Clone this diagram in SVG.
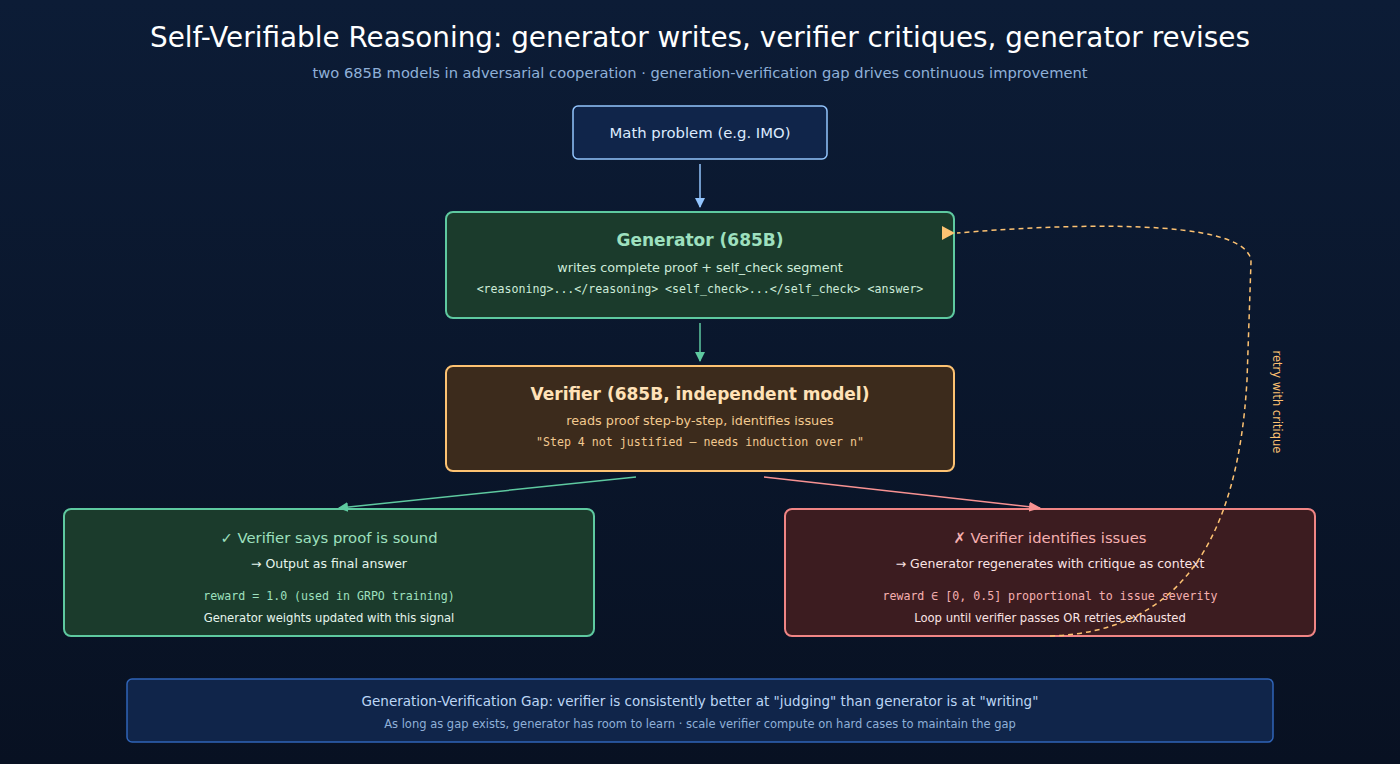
<svg xmlns="http://www.w3.org/2000/svg" width="1400" height="764" viewBox="0 0 1400 764">
<defs>
<linearGradient id="bg" x1="0" y1="0" x2="0" y2="1"><stop offset="0" stop-color="#0c1c36"/><stop offset="1" stop-color="#081122"/></linearGradient>
<marker id="mb" markerWidth="10" markerHeight="10" refX="9" refY="5" orient="auto" markerUnits="userSpaceOnUse"><path d="M0,0L10,5L0,10z" fill="#93c5fd"/></marker>
<marker id="mg" markerWidth="10" markerHeight="10" refX="9" refY="5" orient="auto" markerUnits="userSpaceOnUse"><path d="M0,0L10,5L0,10z" fill="#5ec9a0"/></marker>
<marker id="mr" markerWidth="12" markerHeight="10" refX="11" refY="5" orient="auto" markerUnits="userSpaceOnUse"><path d="M0,0L12,5L0,10z" fill="#f79292"/></marker>
</defs>
<style>
text{font-family:"DejaVu Sans",sans-serif;text-anchor:middle}
.m{font-family:"DejaVu Sans Mono",monospace}
</style>
<rect width="1400" height="764" fill="url(#bg)"/>
<text x="700" y="47" font-size="28" fill="#ffffff" textLength="1100" lengthAdjust="spacingAndGlyphs">Self-Verifiable Reasoning: generator writes, verifier critiques, generator revises</text>
<text x="700" y="78" font-size="14" fill="#8fb0d8" textLength="775" lengthAdjust="spacingAndGlyphs">two 685B models in adversarial cooperation · generation-verification gap drives continuous improvement</text>

<g id="problem"><rect x="573" y="106" width="254" height="53" rx="5" fill="#10254a" stroke="#93c5fd" stroke-width="1.5"/>
<text x="700" y="138" font-size="14" fill="#dbeafe" textLength="181" lengthAdjust="spacingAndGlyphs">Math problem (e.g. IMO)</text></g>

<g id="generator"><rect x="446" y="212" width="508" height="106" rx="7" fill="#1b3b2c" stroke="#5ec9a0" stroke-width="2"/>
<text x="700" y="246" font-size="17" font-weight="bold" fill="#9ee0bf">Generator (685B)</text>
<text x="700" y="272" font-size="12.8" fill="#cdebd9">writes complete proof + self_check segment</text>
<text x="700" y="293" font-size="11.6" class="m" fill="#cdebd9">&lt;reasoning&gt;...&lt;/reasoning&gt; &lt;self_check&gt;...&lt;/self_check&gt; &lt;answer&gt;</text></g>

<g id="verifier"><rect x="446" y="366" width="508" height="105" rx="7" fill="#3c2b1c" stroke="#fdc272" stroke-width="2"/>
<text x="700" y="400" font-size="17" font-weight="bold" fill="#ffe2b8">Verifier (685B, independent model)</text>
<text x="700" y="425" font-size="12.8" fill="#f2c98f">reads proof step-by-step, identifies issues</text>
<text x="700" y="446" font-size="11.6" class="m" fill="#f2c98f">"Step 4 not justified — needs induction over n"</text></g>

<g id="sound"><rect x="64" y="509" width="530" height="127" rx="7" fill="#1b3b2c" stroke="#5ec9a0" stroke-width="2"/>
<text x="329" y="543" font-size="14.8" fill="#9ee0bf">✓ Verifier says proof is sound</text>
<text x="329" y="568" font-size="12.5" fill="#e6f5ec">→ Output as final answer</text>
<text x="329" y="600" font-size="11.6" class="m" fill="#9ee0bf">reward = 1.0 (used in GRPO training)</text>
<text x="329" y="622" font-size="11.6" fill="#e6f5ec">Generator weights updated with this signal</text></g>

<g id="issues"><rect x="785" y="509" width="530" height="127" rx="7" fill="#3c1c20" stroke="#f08585" stroke-width="2"/>
<text x="1050" y="543" font-size="14.8" fill="#f6b0b0">✗ Verifier identifies issues</text>
<text x="1050" y="568" font-size="12.5" fill="#fbe4e4">→ Generator regenerates with critique as context</text>
<text x="1050" y="600" font-size="11.6" class="m" fill="#f6b0b0">reward ∈ [0, 0.5] proportional to issue severity</text>
<text x="1050" y="622" font-size="11.6" fill="#fbe4e4">Loop until verifier passes OR retries exhausted</text></g>

<g id="gap"><rect x="127" y="679" width="1146" height="63" rx="5" fill="#10254a" stroke="#2f64b8" stroke-width="1.5"/>
<text x="700" y="706" font-size="13.5" fill="#bcd6f5">Generation-Verification Gap: verifier is consistently better at "judging" than generator is at "writing"</text>
<text x="700" y="728" font-size="11.5" fill="#8fb0d8">As long as gap exists, generator has room to learn · scale verifier compute on hard cases to maintain the gap</text></g>

<g id="connectors" fill="none">
<path d="M700,164V207" stroke="#93c5fd" stroke-width="1.5" marker-end="url(#mb)"/>
<path d="M700,323V361" stroke="#5ec9a0" stroke-width="1.5" marker-end="url(#mg)"/>
<path d="M636,477L339,508" stroke="#5ec9a0" stroke-width="1.5" marker-end="url(#mg)"/>
<path d="M764,477L1040,508" stroke="#f79292" stroke-width="1.5" marker-end="url(#mr)"/>
<path d="M1050,636C1180,632 1238,540 1247,380L1251,262C1250,215 1050,225 957,233" stroke="#fdc272" stroke-width="1.5" stroke-dasharray="5,4"/>
<path d="M942,226L955,233L942,240z" fill="#fdc272"/>
<text x="1276" y="402" font-size="11.5" fill="#fdc272" transform="rotate(90 1276 402)" dominant-baseline="middle">retry with critique</text>
</g>
</svg>
